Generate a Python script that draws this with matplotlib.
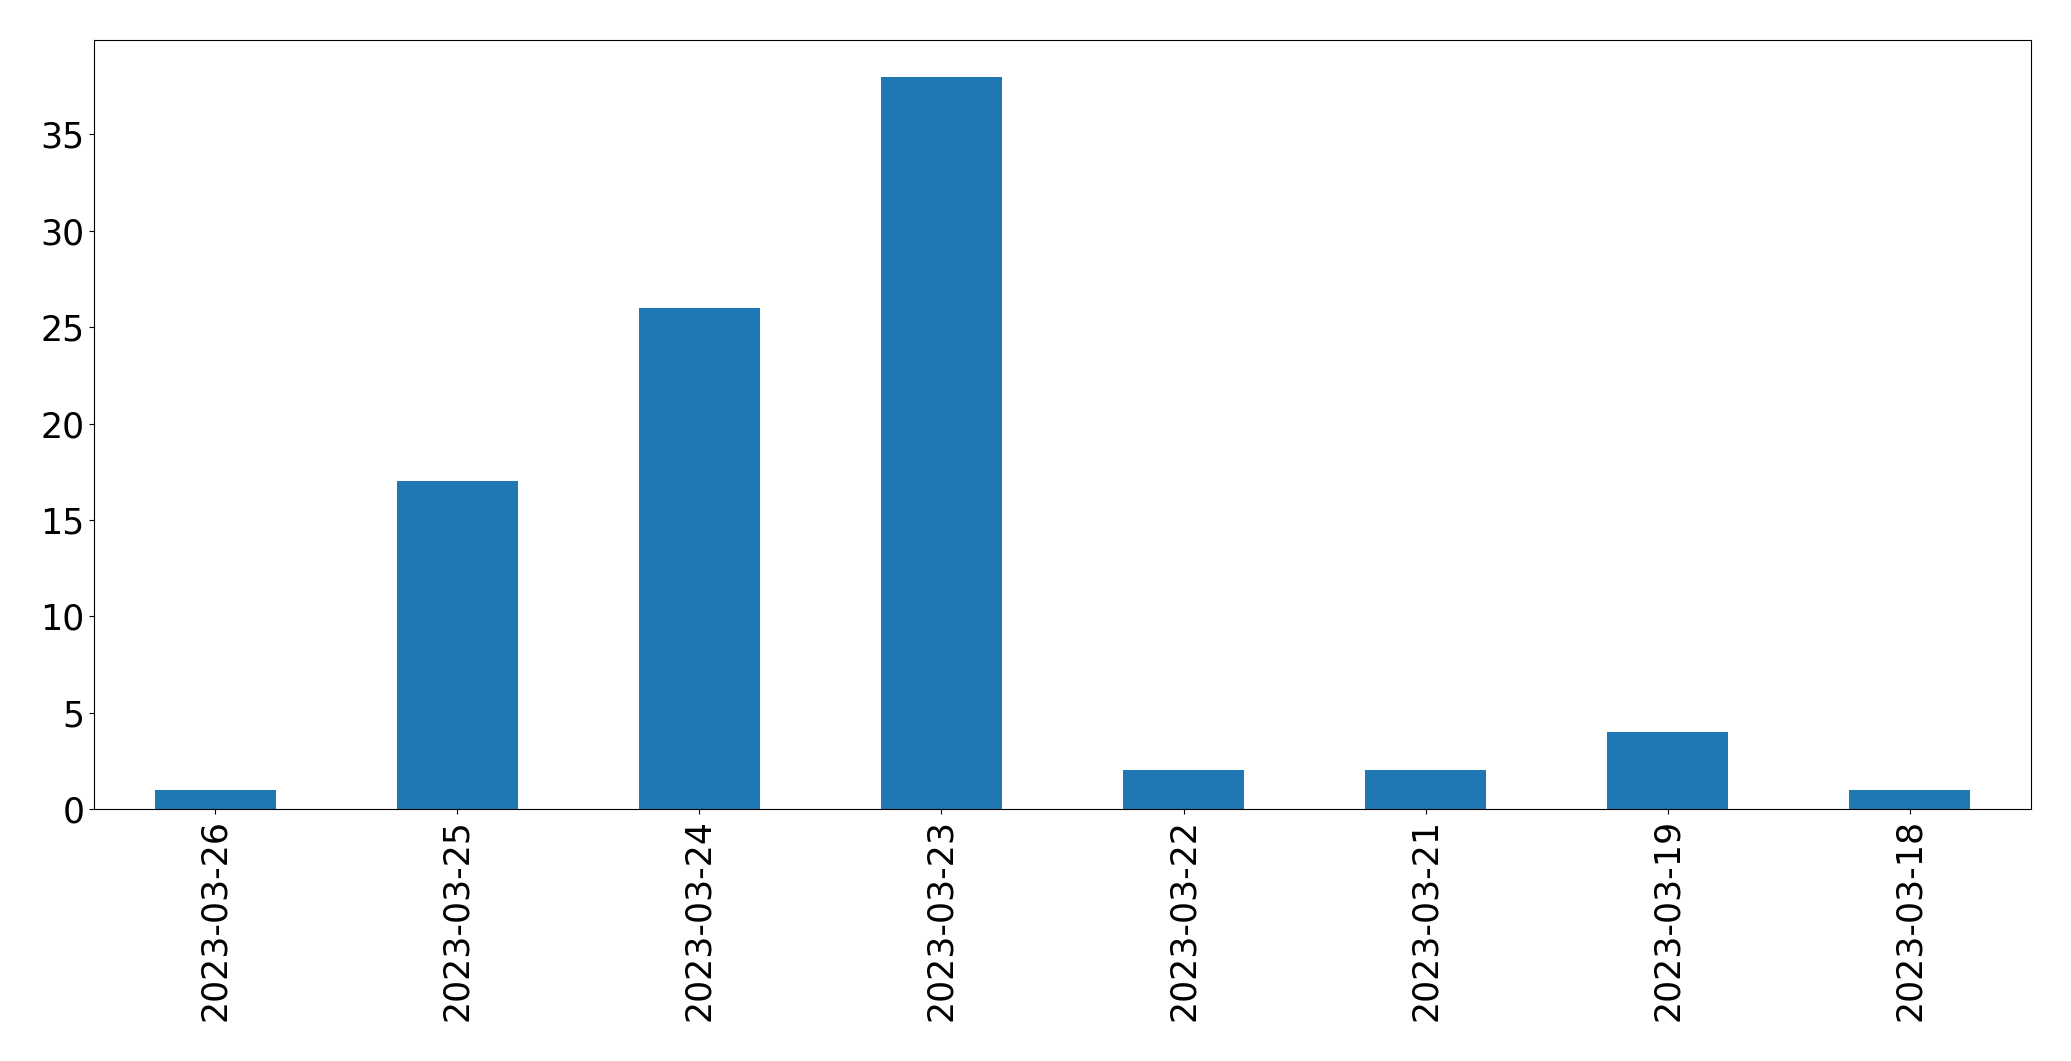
import matplotlib
matplotlib.use('Agg')
import matplotlib.pyplot as plt
import numpy as np

# Data
dates  = ['2023-03-26', '2023-03-25', '2023-03-24', '2023-03-23',
          '2023-03-22', '2023-03-21', '2023-03-19', '2023-03-18']
counts = [1, 17, 26, 38, 2, 2, 4, 1]

fig, ax = plt.subplots(figsize=(20.71, 10.61), dpi=100)
fig.subplots_adjust(left=0.0454, right=0.9807, top=0.9623, bottom=0.2375)

x = np.arange(len(dates))
ax.bar(x, counts, width=0.5, color='#1f77b4')

ax.set_xlim(-0.5, len(dates) - 0.5)
ax.set_xticks(x)
ax.set_xticklabels(dates, rotation=90)
ax.tick_params(axis='both', labelsize=25)

fig.savefig('out.png', dpi=100)
